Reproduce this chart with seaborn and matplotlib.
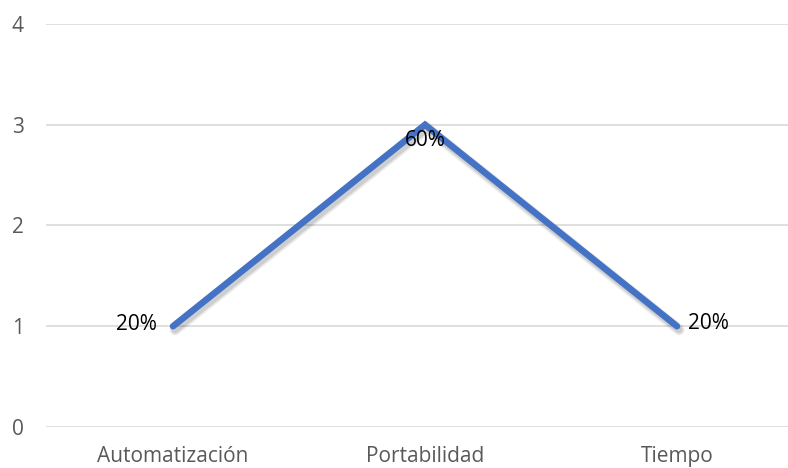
import matplotlib
matplotlib.use("Agg")
import matplotlib.pyplot as plt
import matplotlib.patheffects as pe
import seaborn as sns
import pandas as pd

categories = ["Automatización", "Portabilidad", "Tiempo"]
values = [1, 3, 1]
y_ticks = [0, 1, 2, 3, 4]

total = sum(values)
percent_labels = [f"{round(v / total * 100)}%" for v in values]

sns.set_theme(style="white")
plt.rcParams["font.family"] = ["Open Sans", "DejaVu Sans"]

df = pd.DataFrame({"cat": categories, "val": values, "x": range(len(categories))})

fig = plt.figure(figsize=(7.88, 4.68), dpi=100)
ax = fig.add_axes([46 / 788, 41 / 468, 1 - 46 / 788, (427 - 24) / 468])

sns.lineplot(data=df, x="x", y="val", ax=ax, color="#4472C4", linewidth=4.7,
             sort=False, legend=False, zorder=3)
line = ax.lines[0]
line.set_solid_capstyle("round")
line.set_solid_joinstyle("miter")
line.set_path_effects([
    pe.SimpleLineShadow(offset=(1.5, -2.5), shadow_color="black", alpha=0.08, linewidth=8),
    pe.SimpleLineShadow(offset=(1.5, -2.5), shadow_color="black", alpha=0.12, linewidth=5.5),
    pe.Normal(),
])

ax.set_xlim(-127 / 252, (788 - 173) / 252)
ax.set_ylim(0, 4)
ax.set_yticks(y_ticks)
ax.set_xticks(range(len(categories)))
ax.set_xticklabels(categories)
ax.set_xlabel("")
ax.set_ylabel("")
ax.grid(axis="y", color="#D9D9D9", linewidth=1.2)
ax.grid(axis="x", visible=False)
for s in ax.spines.values():
    s.set_visible(False)
ax.tick_params(axis="both", length=0, labelsize=15, labelcolor="#595959")
ax.tick_params(axis="y", pad=16)
ax.tick_params(axis="x", pad=13.5)

# value labels
lbl_kw = dict(textcoords="offset points", va="center", fontsize=15, color="black", zorder=4)
ax.annotate(percent_labels[0], (0, values[0]), xytext=(-11.5, 1.5), ha="right", **lbl_kw)
ax.annotate(percent_labels[1], (1, values[1]), xytext=(0, -11), ha="center", **lbl_kw)
ax.annotate(percent_labels[2], (2, values[2]), xytext=(8, 2), ha="left", **lbl_kw)

fig.savefig("out.png", dpi=100)
